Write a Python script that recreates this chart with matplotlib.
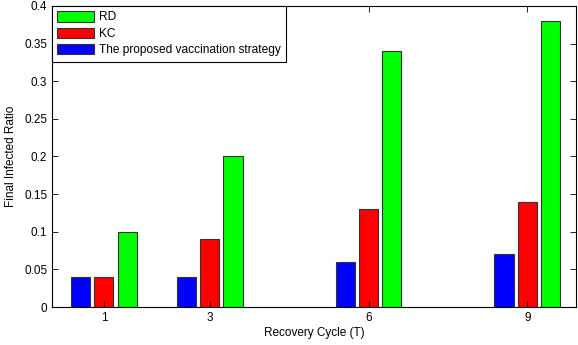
import numpy as np
import matplotlib
matplotlib.use("Agg")
from matplotlib import pyplot as plt

plt.rcParams['font.family'] = ['Liberation Sans', 'DejaVu Sans']
plt.rcParams['font.size'] = 8.5

cycles = [1, 3, 6, 9]
proposed = [0.04, 0.04, 0.06, 0.07]
kc = [0.04, 0.09, 0.13, 0.14]
rd = [0.10, 0.20, 0.34, 0.38]

fig = plt.figure(figsize=(5.78, 3.45), dpi=100)
ax = fig.add_axes([0.090, 0.110, 0.9065, 0.873])

x = np.array(cycles, dtype=float)
off = 0.44
w = 0.36
b1 = ax.bar(x - off, proposed, w, color='#0000ff', edgecolor='#333333', linewidth=0.8)
b2 = ax.bar(x, kc, w, color='#ff0000', edgecolor='#333333', linewidth=0.8)
b3 = ax.bar(x + off, rd, w, color='#00ff00', edgecolor='#333333', linewidth=0.8)

ax.set_xlim(0.02, 9.92)
ax.set_ylim(0, 0.4)
ax.set_xticks(cycles)
ax.set_xticklabels([str(c) for c in cycles])
yt = np.arange(0, 0.401, 0.05)
ax.set_yticks(yt)
ax.set_yticklabels(['0'] + ['%g' % v for v in yt[1:]])
ax.tick_params(direction='in', top=True, right=True, length=4, width=0.6)
for s in ax.spines.values():
    s.set_linewidth(0.8)

ax.set_xlabel('Recovery Cycle (T)', labelpad=2)
ax.set_ylabel('Final Infected Ratio', labelpad=5)

leg = ax.legend([b3, b2, b1], ['RD', 'KC', 'The proposed vaccination strategy'],
                loc='upper left', borderaxespad=0, fancybox=False, framealpha=1,
                fontsize=8.6, handlelength=3.1, handleheight=0.95, labelspacing=0.35,
                handletextpad=0.4, borderpad=0.45)
leg.get_frame().set_edgecolor('black')
leg.get_frame().set_linewidth(0.8)

fig.savefig('out.png', dpi=100)
